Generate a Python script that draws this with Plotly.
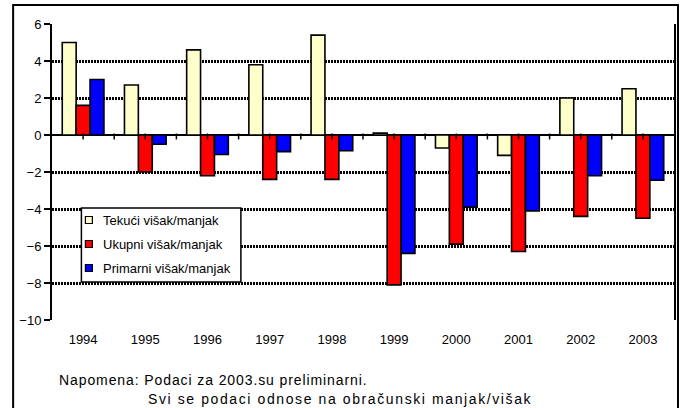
import plotly.graph_objects as go

# ---- data ----
years = ["1994", "1995", "1996", "1997", "1998", "1999", "2000", "2001", "2002", "2003"]
tekuci = [5.0, 2.7, 4.6, 3.8, 5.4, 0.1, -0.7, -1.1, 2.0, 2.5]
ukupni = [1.6, -2.0, -2.2, -2.4, -2.4, -8.1, -5.9, -6.3, -4.4, -4.5]
primarni = [3.0, -0.5, -1.05, -0.9, -0.85, -6.4, -3.9, -4.1, -2.2, -2.45]
series_names = ["Tekući višak/manjak", "Ukupni višak/manjak", "Primarni višak/manjak"]
series_colors = ["#FFFFCC", "#FF0000", "#0000FF"]
y_ticks = [-10, -8, -6, -4, -2, 0, 2, 4, 6]
note_lines = ["Napomena: Podaci za 2003.su preliminarni.",
              "Svi se podaci odnose na obračunski manjak/višak"]

W, H = 686, 408
ML, MR, MT, MB = 52, 10, 24, 88
PW, PH = W - ML - MR, H - MT - MB
FONT = "Arial"


def px(x):
    return (x - ML) / PW


def py(y):
    return (H - MB - y) / PH


fig = go.Figure()
for name, vals, col in zip(series_names, [tekuci, ukupni, primarni], series_colors):
    fig.add_trace(go.Bar(x=years, y=vals, name=name, marker_color=col,
                         marker_line_color="black", marker_line_width=1.6,
                         showlegend=False, hoverinfo="skip"))

shapes = []
# crossing tick marks on the zero line (boundaries and centres)
for i in range(len(years)):
    for pos in ([i, i + 0.5] if i < len(years) - 1 else [i]):
        shapes.append(dict(type="line", xref="x", yref="y", x0=pos, x1=pos,
                           y0=0.08, y1=-0.24, line=dict(color="black", width=1.5),
                           layer="above"))
# outer frame
shapes.append(dict(type="rect", xref="paper", yref="paper",
                   x0=px(13), x1=px(680), y0=py(420), y1=py(5),
                   line=dict(color="black", width=2), fillcolor="rgba(0,0,0,0)",
                   layer="above"))
# manual legend
lx0, lx1, ly0, ly1 = 81.5, 241.5, 208, 282
shapes.append(dict(type="rect", xref="paper", yref="paper",
                   x0=px(lx0), x1=px(lx1), y0=py(ly1), y1=py(ly0),
                   line=dict(color="black", width=1.5), fillcolor="white",
                   layer="above"))
annotations = []
row_y = [220, 244, 268]
for name, col, ry in zip(series_names, series_colors, row_y):
    shapes.append(dict(type="rect", xref="paper", yref="paper",
                       x0=px(85.5), x1=px(92.5), y0=py(ry + 3.5), y1=py(ry - 3.5),
                       line=dict(color="black", width=1.2), fillcolor=col,
                       layer="above"))
    annotations.append(dict(xref="paper", yref="paper", x=px(101), y=py(ry),
                            xanchor="left", yanchor="middle", showarrow=False,
                            text=name, font=dict(family=FONT, size=13, color="black")))

annotations.append(dict(xref="paper", yref="paper", x=px(57), y=py(380),
                        xanchor="left", yanchor="middle", showarrow=False,
                        text='<span style="letter-spacing:0.9px">' + note_lines[0] + '</span>',
                        font=dict(family=FONT, size=14, color="black")))
annotations.append(dict(xref="paper", yref="paper", x=px(146), y=py(399),
                        xanchor="left", yanchor="middle", showarrow=False,
                        text='<span style="letter-spacing:1.6px">' + note_lines[1] + '</span>',
                        font=dict(family=FONT, size=14, color="black")))

fig.update_layout(
    width=W, height=H,
    margin=dict(l=ML, r=MR, t=MT, b=MB, pad=0),
    paper_bgcolor="white", plot_bgcolor="white",
    barmode="group", bargap=0.33, bargroupgap=0,
    font=dict(family=FONT, size=13, color="black"),
    shapes=shapes, annotations=annotations,
    showlegend=False,
)
fig.update_xaxes(type="category", showgrid=False, showline=False, ticks="",
                 tickfont=dict(size=13), ticklabelstandoff=10, zeroline=False)
fig.update_yaxes(range=[-10, 6], tickvals=y_ticks, showgrid=True,
                 gridcolor="black", gridwidth=3, griddash="2px,1px",
                 showline=True, linecolor="black", linewidth=2, mirror=True,
                 ticks="outside", ticklen=6, tickwidth=1.5, tickcolor="black",
                 tickfont=dict(size=13),
                 zeroline=True, zerolinecolor="black", zerolinewidth=2)

fig.write_html("out.html", config={"displayModeBar": False},
               post_script="document.body.style.margin='0';document.body.style.overflow='hidden';")
